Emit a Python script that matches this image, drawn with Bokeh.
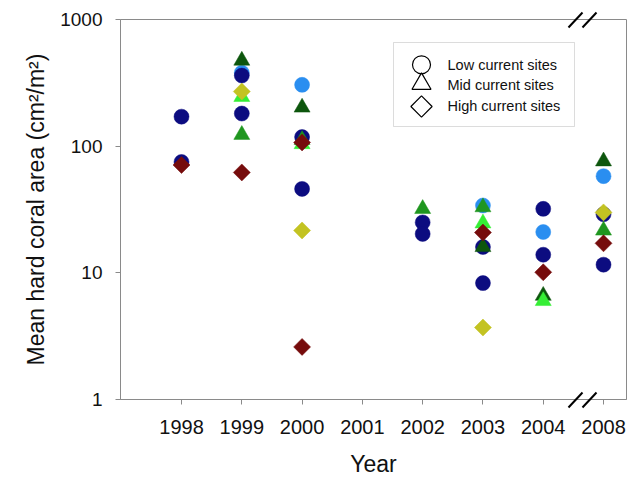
import numpy as np
from bokeh.plotting import figure
from bokeh.models import FixedTicker, PrintfTickFormatter, Range1d, BoxAnnotation, Label
from bokeh.embed import file_html
from bokeh.resources import INLINE

# ---------------- data ----------------
years = ["1998", "1999", "2000", "2001", "2002", "2003", "2004", "2008"]
nan = float("nan")
low_navy_1 = [171, 361, 118, nan, 25, 16, 32, 29]
low_navy_2 = [75, 181, 46, nan, 20.3, 8.3, 13.9, 11.6]
low_blue = [nan, 380, 305, nan, nan, 34, 21, 58]
mid_dkgreen = [nan, 474, 202, nan, nan, 16, 6.6, 76]
mid_green = [nan, 123, 112, nan, 32, 33, nan, 21.6]
mid_lime = [nan, 245, 104, nan, nan, 24.6, 6.0, nan]
high_yellow = [nan, 270, 21.6, nan, nan, 3.7, nan, 30]
high_maroon_1 = [71, 62, 107, nan, nan, 20.8, 10.1, 17.1]
high_maroon_2 = [nan, nan, 2.6, nan, nan, nan, nan, nan]
legend_labels = ["Low current sites", "Mid current sites", "High current sites"]

# ---------------- layout (canvas pixels) ----------------
W, H = 633, 479
FL, FR, FT, FB = 120, 626, 19, 399
X0, X1 = -1.012, 7.381
Y0, Y1 = 1, 1000


def xd(px):
    return X0 + (px - FL) / (FR - FL) * (X1 - X0)


def yd(py):
    return 10 ** (np.log10(Y0) + (FB - py) / (FB - FT) * (np.log10(Y1) - np.log10(Y0)))


FONT = "Liberation Sans"
GREY = "#8a8a8a"

p = figure(width=W, height=H, y_axis_type="log",
           x_range=Range1d(X0, X1), y_range=Range1d(Y0, Y1),
           output_backend="svg", toolbar_location=None,
           min_border_left=FL, min_border_right=W - FR,
           min_border_top=FT, min_border_bottom=H - FB)
p.grid.visible = False
p.outline_line_color = GREY
p.outline_line_width = 1
p.background_fill_color = "white"
p.border_fill_color = "white"

idx = list(range(len(years)))
p.xaxis.ticker = FixedTicker(ticks=idx)
p.xaxis.major_label_overrides = {i: y for i, y in zip(idx, years)}
p.yaxis.ticker = FixedTicker(ticks=[1, 10, 100, 1000])
p.yaxis.formatter = PrintfTickFormatter(format="%d")
for ax in (p.xaxis, p.yaxis):
    ax.axis_line_color = GREY
    ax.major_tick_line_color = GREY
    ax.minor_tick_line_color = None
    ax.major_tick_in = 0
    ax.major_tick_out = 5
    ax.major_label_text_font = FONT
    ax.major_label_text_color = "#111111"
    ax.axis_label_text_font = FONT
    ax.axis_label_text_font_style = "normal"
    ax.axis_label_text_color = "#111111"
p.xaxis.major_label_text_font_size = "20px"
p.yaxis.major_label_text_font_size = "19px"
p.xaxis.axis_label = "Year"
p.xaxis.axis_label_text_font_size = "23px"
p.xaxis.major_label_standoff = 15
p.xaxis.axis_label_standoff = 14
p.yaxis.axis_label = "Mean hard coral area (cm²/m²)"
p.yaxis.axis_label_text_font_size = "23px"
p.yaxis.major_label_standoff = 13
p.yaxis.axis_label_standoff = 8

# ---------------- data markers ----------------
series = [
    (low_blue, "circle", "#2a8ef0", 15, 0),
    (low_navy_1, "circle", "#0c0c80", 15, 0),
    (low_navy_2, "circle", "#0c0c80", 15, 0),
    (mid_dkgreen, "triangle", "#0d560d", 16, 0),
    (mid_green, "triangle", "#1f961f", 16, 0),
    (mid_lime, "triangle", "#35ee35", 16, 0),
    (high_yellow, "square", "#c3c322", 12, np.pi / 4),
    (high_maroon_1, "square", "#760c0c", 12, np.pi / 4),
    (high_maroon_2, "square", "#760c0c", 12, np.pi / 4),
]
for vals, marker, color, size, ang in series:
    xs = [i for i, v in zip(idx, vals) if not np.isnan(v)]
    ys = [v for v in vals if not np.isnan(v)]
    p.scatter(xs, ys, marker=marker, size=size, angle=ang,
              fill_color=color, line_color=color, line_width=0.5)

# ---------------- legend ----------------
p.add_layout(BoxAnnotation(left=xd(393), right=xd(574), top=yd(42), bottom=yd(126),
                           fill_color="white", fill_alpha=1, line_color=GREY,
                           line_width=1, level="underlay"))
leg_rows = [64.3, 84.5, 105.5]
leg_markers = [("circle", 18, 0, 64.3), ("triangle", 19, 0, 83.3), ("square", 15, np.pi / 4, 106)]
for (mk, sz, ang, yy), lab, ty in zip(leg_markers, legend_labels, leg_rows):
    p.scatter([xd(421)], [yd(yy)], marker=mk, size=sz, angle=ang,
              fill_color="white", line_color="black", line_width=1.2)
    p.add_layout(Label(x=xd(447), y=yd(ty), text=lab, text_baseline="middle",
                       text_align="left", text_font=FONT, text_font_size="14.5px",
                       text_color="#111111"))

# ---------------- axis break marks ----------------
bx0 = [xd(x) for x in (568, 582)]
bx1 = [xd(x + 14) for x in (568, 582)]
p.segment(x0=bx0, y0=[yd(FT + 8)] * 2, x1=bx1, y1=[yd(FT - 7)] * 2,
          line_color="black", line_width=2, level="overlay")
p.segment(x0=bx0, y0=[yd(FB + 8)] * 2, x1=bx1, y1=[yd(FB - 7)] * 2,
          line_color="black", line_width=2, level="overlay")

open("out.html", "w").write(file_html(p, INLINE))
